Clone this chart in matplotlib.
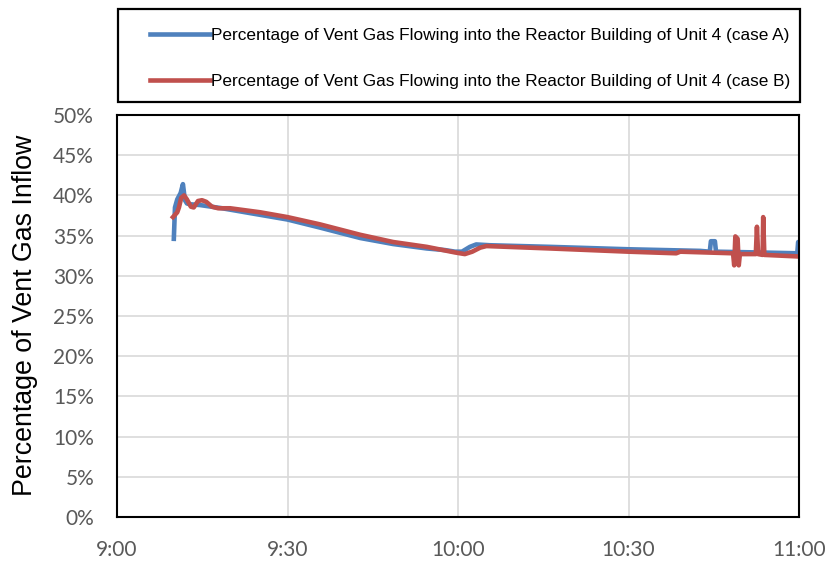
import matplotlib
matplotlib.use("Agg")
import matplotlib.pyplot as plt
from matplotlib import font_manager
from matplotlib.patches import Rectangle
from matplotlib.ticker import FuncFormatter

# minutes after 9:00 / percent of vent gas flowing into Unit 4 R/B
case_a_t = [10.0, 10.2, 10.6, 11.2, 11.6, 11.95, 12.3, 12.8, 14.6, 18.5, 23.4, 30.0, 35.7,
            42.8, 48.6, 54.5, 57.7, 59.5, 60.7, 62.1, 63.2, 65.6, 76.2, 90.0, 102.6,
            104.3, 104.5, 105.2, 105.4, 113.1, 119.7, 119.85, 120.0]
case_a_v = [34.6, 38.5, 39.5, 40.3, 41.4, 39.4, 39.0, 38.9, 38.8, 38.4, 37.8, 37.0, 36.0,
            34.7, 33.95, 33.4, 33.2, 33.0, 33.0, 33.6, 33.9, 33.8, 33.6, 33.3, 33.1,
            33.0, 34.3, 34.3, 33.0, 32.9, 32.8, 34.2, 34.0]

case_b_t = [9.85, 10.6, 10.9, 11.3, 11.8, 12.3, 13.0, 13.5, 14.25, 14.95, 15.7, 16.7, 17.8,
            19.9, 25.2, 30.0, 35.7, 42.8, 48.6, 54.5, 59.5, 61.2, 62.5, 63.9, 65.0, 76.2,
            90.0, 98.4, 99.1, 108.4, 108.6, 108.8, 109.2, 109.4, 109.6, 112.4, 112.6,
            112.8, 113.6, 113.7, 113.9, 120.0]
case_b_v = [37.3, 37.9, 38.5, 39.7, 40.0, 39.5, 38.6, 38.5, 39.3, 39.4, 39.2, 38.6, 38.4,
            38.4, 37.9, 37.3, 36.4, 35.1, 34.2, 33.6, 32.9, 32.7, 33.0, 33.5, 33.7, 33.4,
            33.0, 32.8, 33.0, 32.8, 31.3, 34.9, 34.6, 31.3, 32.7, 32.7, 36.1, 32.7,
            32.6, 37.3, 32.6, 32.4]

labels = ["Percentage of Vent Gas Flowing into the Reactor Building of Unit 4 (case A)",
          "Percentage of Vent Gas Flowing into the Reactor Building of Unit 4 (case B)"]
x_ticks = [0, 30, 60, 90, 120]
x_labels = ["9:00", "9:30", "10:00", "10:30", "11:00"]

installed = {f.name for f in font_manager.fontManager.ttflist}
if "Liberation Sans Narrow" in installed:
    leg_font, leg_size = "Liberation Sans Narrow", 14
else:
    leg_font, leg_size = "Liberation Sans", 12.4

fig = plt.figure(figsize=(8.29, 5.61), dpi=100)
ax = fig.add_axes([117 / 829, 44 / 561, 682 / 829, 402 / 561])

ax.plot(case_a_t, case_a_v, color="#4F81BD", lw=3.3, solid_joinstyle="round", label=labels[0])
ax.plot(case_b_t, case_b_v, color="#C0504D", lw=3.3, solid_joinstyle="round", label=labels[1])

ax.set_xlim(0, 120)
ax.set_ylim(0, 50)
ax.set_xticks(x_ticks)
ax.set_xticklabels(x_labels)
ax.set_yticks(range(0, 51, 5))
ax.yaxis.set_major_formatter(FuncFormatter(lambda v, p: f"{int(v)}%"))
ax.grid(True, color="#D9D9D9", lw=1.2)
ax.set_axisbelow(True)
ax.tick_params(length=0, pad=16.5, labelsize=15, labelcolor="#595959")
for lab in ax.get_xticklabels() + ax.get_yticklabels():
    lab.set_family("Lato")
for s in ax.spines.values():
    s.set_color("black")
    s.set_linewidth(1.5)

fig.text(25 / 829, 1 - 315 / 561, "Percentage of Vent Gas Inflow", rotation=90,
         ha="center", va="center", fontsize=19.3, family="Liberation Sans")

# legend box above the plot
fig.patches.append(Rectangle((118 / 829, 1 - 102 / 561), 682 / 829, 93 / 561,
                             transform=fig.transFigure, fill=False, ec="black", lw=1.6))
ax.legend(loc="center left", bbox_to_anchor=(150 / 829, 1 - 58.5 / 561),
          bbox_transform=fig.transFigure, frameon=False, borderpad=0, borderaxespad=0,
          handlelength=3.5, handletextpad=0.03, labelspacing=1.85,
          prop={"family": leg_font, "size": leg_size})

fig.savefig("out.png", dpi=100)
